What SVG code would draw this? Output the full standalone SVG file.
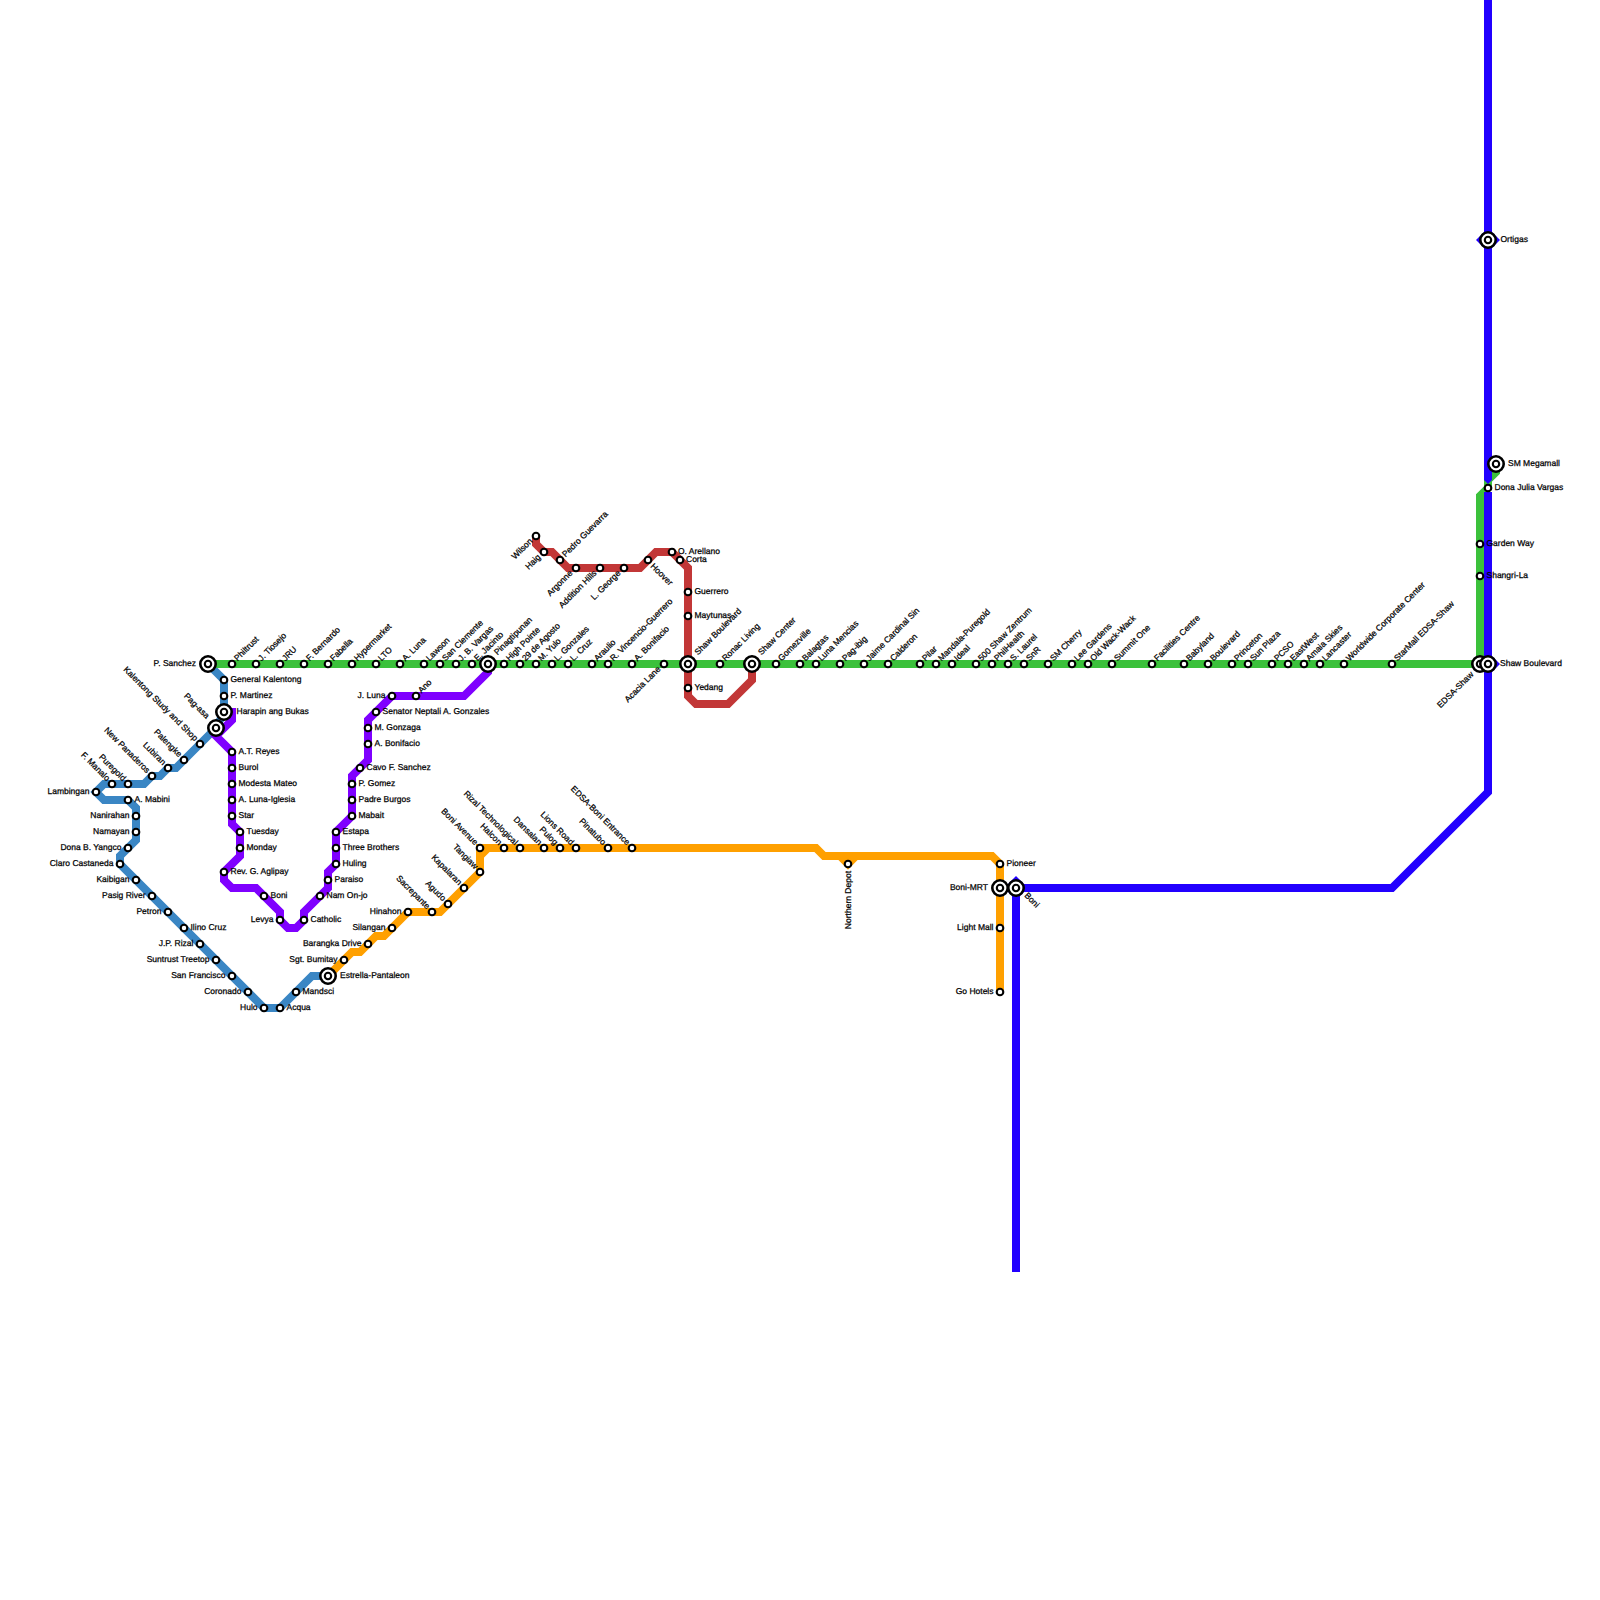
<svg xmlns="http://www.w3.org/2000/svg" width="1600" height="1600" viewBox="0 0 1600 1600">
<style>
.bg{fill:#fff}
.l{fill:none;stroke-width:8;stroke-linejoin:miter}
.steel{stroke:#3a86c4}.purple{stroke:#7f00ff}.orange{stroke:#ffa000}.red{stroke:#c23737}.blue{stroke:#2200ff}.green{stroke:#3bc13b}
.s{fill:#fff;stroke:#000;stroke-width:2.1}
.o{fill:#fff;stroke:#000;stroke-width:2.6}
text{font-family:"Liberation Sans",Arial,sans-serif;font-size:8.5px;fill:#000;stroke:#000;stroke-width:.25;text-rendering:geometricPrecision}
text:not([transform]){transform:translateY(-.7px)}
.e{text-anchor:end}
</style>
<defs>
<g id="ix"><circle class="o" r="7.7"/><circle class="s" r="3.2"/></g>
<polygon id="dia" points="0,-12 12,0 0,12 -12,0" fill="#2200ff"/>
</defs>
<rect class="bg" width="1600" height="1600"/>
<g id="connectors">
<path class="l steel" d="M208 664L224 680V712L216 728L184 760L176 768H168L160 776H152L144 784H104L96 792L104 800H128L136 808V840L120 856V864L264 1008H280L312 976H328"/>
<path class="l purple" d="M224 712H232V720L216 736L232 752V824L240 832V856L224 872V880L232 888H256L280 912V920L288 928H296L304 920V912L328 888V872L336 864V832L352 816V776L368 760V720L392 696H464L488 672V664"/>
<path class="l orange" d="M328 976L352 952H360L376 936H384L408 912H440L480 872V856L488 848H816L824 856H992L1000 864V992"/>
<path class="l orange" d="M480 856V848H490M840 856L848 864L856 856"/>
<path class="l red" d="M536 536V544L544 552H552L568 568H640L656 552H672L688 568V696L696 704H728L752 680V664"/>
<path class="l green" d="M208 664H1480V496L1488 488V480L1496 472V464"/>
<path class="l blue" d="M1488 0V480M1488 492V792L1392 888H1016V1272"/>
<polygon points="1484,480 1492,480 1488,484" fill="#2200ff"/>
<use href="#dia" x="1488" y="240"/><use href="#dia" x="1488" y="664"/><use href="#dia" x="1016" y="888"/>
</g>
<g id="steel-line-nodes">
<g id="p-sanchez"><use href="#ix" x="208" y="664"/><text class="e" x="196" y="667">P. Sanchez</text></g>
<g id="general-kalentong"><circle class="s" cx="224" cy="680" r="3.3"/><text x="230.5" y="683">General Kalentong</text></g>
<g id="p-martinez"><circle class="s" cx="224" cy="696" r="3.3"/><text x="230.5" y="699">P. Martinez</text></g>
<g id="harapin"><use href="#ix" x="224" y="712"/><text x="236.5" y="714.5">Harapin ang Bukas</text></g>
<g id="pag-asa"><use href="#ix" x="216" y="728"/><text class="e" transform="rotate(45 206 719)" x="206" y="719">Pag-asa</text></g>
<g id="kalentong-study"><circle class="s" cx="200" cy="744" r="3.3"/><text class="e" transform="rotate(45 194.5 741.5)" x="194.5" y="741.5">Kalentong Study and Shop</text></g>
<g id="palengke"><circle class="s" cx="184" cy="760" r="3.3"/><text class="e" transform="rotate(45 178.5 757.5)" x="178.5" y="757.5">Palengke</text></g>
<g id="lubiran"><circle class="s" cx="168" cy="768" r="3.3"/><text class="e" transform="rotate(45 162.5 765.5)" x="162.5" y="765.5">Lubiran</text></g>
<g id="new-panaderos"><circle class="s" cx="152" cy="776" r="3.3"/><text class="e" transform="rotate(45 146.5 773.5)" x="146.5" y="773.5">New Panaderos</text></g>
<g id="puregold"><circle class="s" cx="128" cy="784" r="3.3"/><text class="e" transform="rotate(45 122.5 781.5)" x="122.5" y="781.5">Puregold</text></g>
<g id="f-manalo"><circle class="s" cx="112" cy="784" r="3.3"/><text class="e" transform="rotate(45 106.5 781.5)" x="106.5" y="781.5">F. Manalo</text></g>
<g id="lambingan"><circle class="s" cx="96" cy="792" r="3.3"/><text class="e" x="89.5" y="795">Lambingan</text></g>
<g id="a-mabini"><circle class="s" cx="128" cy="800" r="3.3"/><text x="134.5" y="803">A. Mabini</text></g>
<g id="nanirahan"><circle class="s" cx="136" cy="816" r="3.3"/><text class="e" x="129.5" y="819">Nanirahan</text></g>
<g id="namayan"><circle class="s" cx="136" cy="832" r="3.3"/><text class="e" x="129.5" y="835">Namayan</text></g>
<g id="dona-b-yangco"><circle class="s" cx="128" cy="848" r="3.3"/><text class="e" x="121.5" y="851">Dona B. Yangco</text></g>
<g id="claro-castaneda"><circle class="s" cx="120" cy="864" r="3.3"/><text class="e" x="113.5" y="867">Claro Castaneda</text></g>
<g id="kaibigan"><circle class="s" cx="136" cy="880" r="3.3"/><text class="e" x="129.5" y="883">Kaibigan</text></g>
<g id="pasig-river"><circle class="s" cx="152" cy="896" r="3.3"/><text class="e" x="145.5" y="899">Pasig River</text></g>
<g id="petron"><circle class="s" cx="168" cy="912" r="3.3"/><text class="e" x="161.5" y="915">Petron</text></g>
<g id="ilino-cruz"><circle class="s" cx="184" cy="928" r="3.3"/><text x="190.5" y="931">Ilino Cruz</text></g>
<g id="jp-rizal"><circle class="s" cx="200" cy="944" r="3.3"/><text class="e" x="193.5" y="947">J.P. Rizal</text></g>
<g id="suntrust-treetop"><circle class="s" cx="216" cy="960" r="3.3"/><text class="e" x="209.5" y="963">Suntrust Treetop</text></g>
<g id="san-francisco"><circle class="s" cx="232" cy="976" r="3.3"/><text class="e" x="225.5" y="979">San Francisco</text></g>
<g id="coronado"><circle class="s" cx="248" cy="992" r="3.3"/><text class="e" x="241.5" y="995">Coronado</text></g>
<g id="hulo"><circle class="s" cx="264" cy="1008" r="3.3"/><text class="e" x="257.5" y="1011">Hulo</text></g>
<g id="acqua"><circle class="s" cx="280" cy="1008" r="3.3"/><text x="286.5" y="1011">Acqua</text></g>
<g id="mandsci"><circle class="s" cx="296" cy="992" r="3.3"/><text x="302.5" y="995">Mandsci</text></g>
<g id="estrella-pantaleon"><use href="#ix" x="328" y="976"/><text x="340" y="979">Estrella-Pantaleon</text></g>
</g>
<g id="purple-line-nodes">
<g id="at-reyes"><circle class="s" cx="232" cy="752" r="3.3"/><text x="238.5" y="755">A.T. Reyes</text></g>
<g id="burol"><circle class="s" cx="232" cy="768" r="3.3"/><text x="238.5" y="771">Burol</text></g>
<g id="modesta-mateo"><circle class="s" cx="232" cy="784" r="3.3"/><text x="238.5" y="787">Modesta Mateo</text></g>
<g id="a-luna-iglesia"><circle class="s" cx="232" cy="800" r="3.3"/><text x="238.5" y="803">A. Luna-Iglesia</text></g>
<g id="star"><circle class="s" cx="232" cy="816" r="3.3"/><text x="238.5" y="819">Star</text></g>
<g id="tuesday"><circle class="s" cx="240" cy="832" r="3.3"/><text x="246.5" y="835">Tuesday</text></g>
<g id="monday"><circle class="s" cx="240" cy="848" r="3.3"/><text x="246.5" y="851">Monday</text></g>
<g id="rev-aglipay"><circle class="s" cx="224" cy="872" r="3.3"/><text x="230.5" y="875">Rev. G. Aglipay</text></g>
<g id="boni-purple"><circle class="s" cx="264" cy="896" r="3.3"/><text x="270.5" y="899">Boni</text></g>
<g id="levya"><circle class="s" cx="280" cy="920" r="3.3"/><text class="e" x="273.5" y="923">Levya</text></g>
<g id="catholic"><circle class="s" cx="304" cy="920" r="3.3"/><text x="310.5" y="923">Catholic</text></g>
<g id="nam-on-jo"><circle class="s" cx="320" cy="896" r="3.3"/><text x="326.5" y="899">Nam On-jo</text></g>
<g id="paraiso"><circle class="s" cx="328" cy="880" r="3.3"/><text x="334.5" y="883">Paraiso</text></g>
<g id="huling"><circle class="s" cx="336" cy="864" r="3.3"/><text x="342.5" y="867">Huling</text></g>
<g id="three-brothers"><circle class="s" cx="336" cy="848" r="3.3"/><text x="342.5" y="851">Three Brothers</text></g>
<g id="estapa"><circle class="s" cx="336" cy="832" r="3.3"/><text x="342.5" y="835">Estapa</text></g>
<g id="mabait"><circle class="s" cx="352" cy="816" r="3.3"/><text x="358.5" y="819">Mabait</text></g>
<g id="padre-burgos"><circle class="s" cx="352" cy="800" r="3.3"/><text x="358.5" y="803">Padre Burgos</text></g>
<g id="p-gomez"><circle class="s" cx="352" cy="784" r="3.3"/><text x="358.5" y="787">P. Gomez</text></g>
<g id="cavo"><circle class="s" cx="360" cy="768" r="3.3"/><text x="366.5" y="771">Cavo F. Sanchez</text></g>
<g id="a-bonifacio-purple"><circle class="s" cx="368" cy="744" r="3.3"/><text x="374.5" y="747">A. Bonifacio</text></g>
<g id="m-gonzaga"><circle class="s" cx="368" cy="728" r="3.3"/><text x="374.5" y="731">M. Gonzaga</text></g>
<g id="senator"><circle class="s" cx="376" cy="712" r="3.3"/><text x="382.5" y="715">Senator Neptali A. Gonzales</text></g>
<g id="j-luna"><circle class="s" cx="392" cy="696" r="3.3"/><text class="e" x="385.5" y="699">J. Luna</text></g>
<g id="ano"><circle class="s" cx="416" cy="696" r="3.3"/><text transform="rotate(-45 421.5 693.5)" x="421.5" y="693.5">Ano</text></g>
</g>
<g id="orange-line-nodes">
<g id="sgt-bumitay"><circle class="s" cx="344" cy="960" r="3.3"/><text class="e" x="337.5" y="963">Sgt. Bumitay</text></g>
<g id="barangka-drive"><circle class="s" cx="368" cy="944" r="3.3"/><text class="e" x="361.5" y="947">Barangka Drive</text></g>
<g id="silangan"><circle class="s" cx="392" cy="928" r="3.3"/><text class="e" x="385.5" y="931">Silangan</text></g>
<g id="hinahon"><circle class="s" cx="408" cy="912" r="3.3"/><text class="e" x="401.5" y="915">Hinahon</text></g>
<g id="sacrepante"><circle class="s" cx="432" cy="912" r="3.3"/><text class="e" transform="rotate(45 426.5 909.5)" x="426.5" y="909.5">Sacrepante</text></g>
<g id="agudo"><circle class="s" cx="448" cy="904" r="3.3"/><text class="e" transform="rotate(45 442.5 901.5)" x="442.5" y="901.5">Agudo</text></g>
<g id="kapalaran"><circle class="s" cx="464" cy="888" r="3.3"/><text class="e" transform="rotate(45 458.5 885.5)" x="458.5" y="885.5">Kapalaran</text></g>
<g id="tangiaw"><circle class="s" cx="480" cy="872" r="3.3"/><text class="e" transform="rotate(45 474.5 869.5)" x="474.5" y="869.5">Tangiaw</text></g>
<g id="boni-avenue"><circle class="s" cx="480" cy="848" r="3.3"/><text class="e" transform="rotate(45 474.5 845.5)" x="474.5" y="845.5">Boni Avenue</text></g>
<g id="halcon"><circle class="s" cx="504" cy="848" r="3.3"/><text class="e" transform="rotate(45 498.5 845.5)" x="498.5" y="845.5">Halcon</text></g>
<g id="rizal-tech"><circle class="s" cx="520" cy="848" r="3.3"/><text class="e" transform="rotate(45 514.5 845.5)" x="514.5" y="845.5">Rizal Technological</text></g>
<g id="dansalan"><circle class="s" cx="544" cy="848" r="3.3"/><text class="e" transform="rotate(45 538.5 845.5)" x="538.5" y="845.5">Dansalan</text></g>
<g id="pulog"><circle class="s" cx="560" cy="848" r="3.3"/><text class="e" transform="rotate(45 554.5 845.5)" x="554.5" y="845.5">Pulog</text></g>
<g id="lions-road"><circle class="s" cx="576" cy="848" r="3.3"/><text class="e" transform="rotate(45 570.5 845.5)" x="570.5" y="845.5">Lions Road</text></g>
<g id="pinatubo"><circle class="s" cx="608" cy="848" r="3.3"/><text class="e" transform="rotate(45 602.5 845.5)" x="602.5" y="845.5">Pinatubo</text></g>
<g id="edsa-boni"><circle class="s" cx="632" cy="848" r="3.3"/><text class="e" transform="rotate(45 626.5 845.5)" x="626.5" y="845.5">EDSA-Boni Entrance</text></g>
<g id="northern-depot"><circle class="s" cx="848" cy="864" r="3.3"/><text class="e" transform="rotate(-90 851 871)" x="851" y="871">Northern Depot</text></g>
<g id="pioneer"><circle class="s" cx="1000" cy="864" r="3.3"/><text x="1006.5" y="867">Pioneer</text></g>
<g id="boni-mrt"><use href="#ix" x="1000" y="888"/><text class="e" x="988" y="891">Boni-MRT</text></g>
<g id="light-mall"><circle class="s" cx="1000" cy="928" r="3.3"/><text class="e" x="993.5" y="931">Light Mall</text></g>
<g id="go-hotels"><circle class="s" cx="1000" cy="992" r="3.3"/><text class="e" x="993.5" y="995">Go Hotels</text></g>
<g id="boni-blue"><use href="#ix" x="1016" y="888"/><text transform="rotate(45 1024 896)" x="1024" y="896">Boni</text></g>
</g>
<g id="red-line-nodes">
<g id="wilson"><circle class="s" cx="536" cy="536" r="3.3"/><text class="e" transform="rotate(-45 533 541.7)" x="533" y="541.7">Wilson</text></g>
<g id="haig"><circle class="s" cx="544" cy="552" r="3.3"/><text class="e" transform="rotate(-45 541 557.7)" x="541" y="557.7">Haig</text></g>
<g id="pedro-guevarra"><circle class="s" cx="560" cy="560" r="3.3"/><text transform="rotate(-45 565.5 557.5)" x="565.5" y="557.5">Pedro Guevarra</text></g>
<g id="argonne"><circle class="s" cx="576" cy="568" r="3.3"/><text class="e" transform="rotate(-45 573 573.7)" x="573" y="573.7">Argonne</text></g>
<g id="addition-hills"><circle class="s" cx="600" cy="568" r="3.3"/><text class="e" transform="rotate(-45 597 573.7)" x="597" y="573.7">Addition Hills</text></g>
<g id="l-george"><circle class="s" cx="624" cy="568" r="3.3"/><text class="e" transform="rotate(-45 621 573.7)" x="621" y="573.7">L. George</text></g>
<g id="hoover"><circle class="s" cx="648" cy="560" r="3.3"/><text transform="rotate(45 650 566.7)" x="650" y="566.7">Hoover</text></g>
<g id="o-arellano"><circle class="s" cx="672" cy="552" r="3.3"/><text x="678" y="555">O. Arellano</text></g>
<g id="corta"><circle class="s" cx="680" cy="560" r="3.3"/><text x="686" y="563">Corta</text></g>
<g id="guerrero"><circle class="s" cx="688" cy="592" r="3.3"/><text x="694.5" y="595">Guerrero</text></g>
<g id="maytunas"><circle class="s" cx="688" cy="616" r="3.3"/><text x="694.5" y="619">Maytunas</text></g>
<g id="yedang"><circle class="s" cx="688" cy="688" r="3.3"/><text x="694.5" y="691">Yedang</text></g>
</g>
<g id="green-line-nodes">
<g id="philtrust"><circle class="s" cx="232" cy="664" r="3.3"/><text transform="rotate(-45 237.5 661.5)" x="237.5" y="661.5">Philtrust</text></g>
<g id="j-tiosejo"><circle class="s" cx="256" cy="664" r="3.3"/><text transform="rotate(-45 261.5 661.5)" x="261.5" y="661.5">J. Tiosejo</text></g>
<g id="jru"><circle class="s" cx="280" cy="664" r="3.3"/><text transform="rotate(-45 285.5 661.5)" x="285.5" y="661.5">JRU</text></g>
<g id="f-bernardo"><circle class="s" cx="304" cy="664" r="3.3"/><text transform="rotate(-45 309.5 661.5)" x="309.5" y="661.5">F. Bernardo</text></g>
<g id="fabella"><circle class="s" cx="328" cy="664" r="3.3"/><text transform="rotate(-45 333.5 661.5)" x="333.5" y="661.5">Fabella</text></g>
<g id="hypermarket"><circle class="s" cx="352" cy="664" r="3.3"/><text transform="rotate(-45 357.5 661.5)" x="357.5" y="661.5">Hypermarket</text></g>
<g id="lto"><circle class="s" cx="376" cy="664" r="3.3"/><text transform="rotate(-45 381.5 661.5)" x="381.5" y="661.5">LTO</text></g>
<g id="a-luna"><circle class="s" cx="400" cy="664" r="3.3"/><text transform="rotate(-45 405.5 661.5)" x="405.5" y="661.5">A. Luna</text></g>
<g id="lawson"><circle class="s" cx="424" cy="664" r="3.3"/><text transform="rotate(-45 429.5 661.5)" x="429.5" y="661.5">Lawson</text></g>
<g id="san-clemente"><circle class="s" cx="440" cy="664" r="3.3"/><text transform="rotate(-45 445.5 661.5)" x="445.5" y="661.5">San Clemente</text></g>
<g id="jb-vargas"><circle class="s" cx="456" cy="664" r="3.3"/><text transform="rotate(-45 461.5 661.5)" x="461.5" y="661.5">J. B. Vargas</text></g>
<g id="e-jacinto"><circle class="s" cx="472" cy="664" r="3.3"/><text transform="rotate(-45 477.5 661.5)" x="477.5" y="661.5">E. Jacinto</text></g>
<g id="pinagtipunan"><use href="#ix" x="488" y="664"/><text transform="rotate(-45 497.5 655.5)" x="497.5" y="655.5">Pinagtipunan</text></g>
<g id="high-pointe"><circle class="s" cx="504" cy="664" r="3.3"/><text transform="rotate(-45 509.5 661.5)" x="509.5" y="661.5">High Pointe</text></g>
<g id="29-de-agosto"><circle class="s" cx="520" cy="664" r="3.3"/><text transform="rotate(-45 525.5 661.5)" x="525.5" y="661.5">29 de Agosto</text></g>
<g id="m-yulo"><circle class="s" cx="536" cy="664" r="3.3"/><text transform="rotate(-45 541.5 661.5)" x="541.5" y="661.5">M. Yulo</text></g>
<g id="l-gonzales"><circle class="s" cx="552" cy="664" r="3.3"/><text transform="rotate(-45 557.5 661.5)" x="557.5" y="661.5">L. Gonzales</text></g>
<g id="l-cruz"><circle class="s" cx="568" cy="664" r="3.3"/><text transform="rotate(-45 573.5 661.5)" x="573.5" y="661.5">L. Cruz</text></g>
<g id="araulio"><circle class="s" cx="592" cy="664" r="3.3"/><text transform="rotate(-45 597.5 661.5)" x="597.5" y="661.5">Araulio</text></g>
<g id="r-vincencio"><circle class="s" cx="608" cy="664" r="3.3"/><text transform="rotate(-45 613.5 661.5)" x="613.5" y="661.5">R. Vincencio-Guerrero</text></g>
<g id="a-bonifacio"><circle class="s" cx="632" cy="664" r="3.3"/><text transform="rotate(-45 637.5 661.5)" x="637.5" y="661.5">A. Bonifacio</text></g>
<g id="acacia-lane"><circle class="s" cx="664" cy="664" r="3.3"/><text class="e" transform="rotate(-45 661 669.7)" x="661" y="669.7">Acacia Lane</text></g>
<g id="shaw-boulevard"><use href="#ix" x="688" y="664"/><text transform="rotate(-45 698 655.5)" x="698" y="655.5">Shaw Boulevard</text></g>
<g id="ronac-living"><circle class="s" cx="720" cy="664" r="3.3"/><text transform="rotate(-45 725.5 661.5)" x="725.5" y="661.5">Ronac Living</text></g>
<g id="shaw-center"><use href="#ix" x="752" y="664"/><text transform="rotate(-45 761.5 655.5)" x="761.5" y="655.5">Shaw Center</text></g>
<g id="gomezville"><circle class="s" cx="776" cy="664" r="3.3"/><text transform="rotate(-45 781.5 661.5)" x="781.5" y="661.5">Gomezville</text></g>
<g id="balagtas"><circle class="s" cx="800" cy="664" r="3.3"/><text transform="rotate(-45 805.5 661.5)" x="805.5" y="661.5">Balagtas</text></g>
<g id="luna-mencias"><circle class="s" cx="816" cy="664" r="3.3"/><text transform="rotate(-45 821.5 661.5)" x="821.5" y="661.5">Luna Mencias</text></g>
<g id="pag-ibig"><circle class="s" cx="840" cy="664" r="3.3"/><text transform="rotate(-45 845.5 661.5)" x="845.5" y="661.5">Pag-ibig</text></g>
<g id="jaime"><circle class="s" cx="864" cy="664" r="3.3"/><text transform="rotate(-45 869.5 661.5)" x="869.5" y="661.5">Jaime Cardinal Sin</text></g>
<g id="calderon"><circle class="s" cx="888" cy="664" r="3.3"/><text transform="rotate(-45 893.5 661.5)" x="893.5" y="661.5">Calderon</text></g>
<g id="pilar"><circle class="s" cx="920" cy="664" r="3.3"/><text transform="rotate(-45 925.5 661.5)" x="925.5" y="661.5">Pilar</text></g>
<g id="mandala"><circle class="s" cx="936" cy="664" r="3.3"/><text transform="rotate(-45 941.5 661.5)" x="941.5" y="661.5">Mandala-Puregold</text></g>
<g id="ideal"><circle class="s" cx="952" cy="664" r="3.3"/><text transform="rotate(-45 957.5 661.5)" x="957.5" y="661.5">Ideal</text></g>
<g id="500-shaw"><circle class="s" cx="976" cy="664" r="3.3"/><text transform="rotate(-45 981.5 661.5)" x="981.5" y="661.5">500 Shaw Zentrum</text></g>
<g id="philhealth"><circle class="s" cx="992" cy="664" r="3.3"/><text transform="rotate(-45 997.5 661.5)" x="997.5" y="661.5">PhilHealth</text></g>
<g id="s-laurel"><circle class="s" cx="1008" cy="664" r="3.3"/><text transform="rotate(-45 1013.5 661.5)" x="1013.5" y="661.5">S. Laurel</text></g>
<g id="snr"><circle class="s" cx="1024" cy="664" r="3.3"/><text transform="rotate(-45 1029.5 661.5)" x="1029.5" y="661.5">SnR</text></g>
<g id="sm-cherry"><circle class="s" cx="1048" cy="664" r="3.3"/><text transform="rotate(-45 1053.5 661.5)" x="1053.5" y="661.5">SM Cherry</text></g>
<g id="lee-gardens"><circle class="s" cx="1072" cy="664" r="3.3"/><text transform="rotate(-45 1077.5 661.5)" x="1077.5" y="661.5">Lee Gardens</text></g>
<g id="old-wack-wack"><circle class="s" cx="1088" cy="664" r="3.3"/><text transform="rotate(-45 1093.5 661.5)" x="1093.5" y="661.5">Old Wack-Wack</text></g>
<g id="summit-one"><circle class="s" cx="1112" cy="664" r="3.3"/><text transform="rotate(-45 1117.5 661.5)" x="1117.5" y="661.5">Summit One</text></g>
<g id="facilities-centre"><circle class="s" cx="1152" cy="664" r="3.3"/><text transform="rotate(-45 1157.5 661.5)" x="1157.5" y="661.5">Facilities Centre</text></g>
<g id="babyland"><circle class="s" cx="1184" cy="664" r="3.3"/><text transform="rotate(-45 1189.5 661.5)" x="1189.5" y="661.5">Babyland</text></g>
<g id="boulevard"><circle class="s" cx="1208" cy="664" r="3.3"/><text transform="rotate(-45 1213.5 661.5)" x="1213.5" y="661.5">Boulevard</text></g>
<g id="princeton"><circle class="s" cx="1232" cy="664" r="3.3"/><text transform="rotate(-45 1237.5 661.5)" x="1237.5" y="661.5">Princeton</text></g>
<g id="sun-plaza"><circle class="s" cx="1248" cy="664" r="3.3"/><text transform="rotate(-45 1253.5 661.5)" x="1253.5" y="661.5">Sun Plaza</text></g>
<g id="pcso"><circle class="s" cx="1272" cy="664" r="3.3"/><text transform="rotate(-45 1277.5 661.5)" x="1277.5" y="661.5">PCSO</text></g>
<g id="eastwest"><circle class="s" cx="1288" cy="664" r="3.3"/><text transform="rotate(-45 1293.5 661.5)" x="1293.5" y="661.5">EastWest</text></g>
<g id="amaia-skies"><circle class="s" cx="1304" cy="664" r="3.3"/><text transform="rotate(-45 1309.5 661.5)" x="1309.5" y="661.5">Amaia Skies</text></g>
<g id="lancaster"><circle class="s" cx="1320" cy="664" r="3.3"/><text transform="rotate(-45 1325.5 661.5)" x="1325.5" y="661.5">Lancaster</text></g>
<g id="worldwide"><circle class="s" cx="1344" cy="664" r="3.3"/><text transform="rotate(-45 1349.5 661.5)" x="1349.5" y="661.5">Worldwide Corporate Center</text></g>
<g id="starmall"><circle class="s" cx="1392" cy="664" r="3.3"/><text transform="rotate(-45 1397.5 661.5)" x="1397.5" y="661.5">StarMall EDSA-Shaw</text></g>
<g id="edsa-shaw"><use href="#ix" x="1480" y="664"/><text class="e" transform="rotate(-45 1474 675)" x="1474" y="675">EDSA-Shaw</text></g>
<g id="shangri-la"><circle class="s" cx="1480" cy="576" r="3.3"/><text x="1486.5" y="579">Shangri-La</text></g>
<g id="garden-way"><circle class="s" cx="1480" cy="544" r="3.3"/><text x="1486.5" y="547">Garden Way</text></g>
<g id="dona-julia-vargas"><circle class="s" cx="1488" cy="488" r="3.3"/><text x="1494.5" y="491">Dona Julia Vargas</text></g>
<g id="sm-megamall"><use href="#ix" x="1496" y="464"/><text x="1508" y="467">SM Megamall</text></g>
</g>
<g id="blue-line-nodes">
<g id="ortigas"><use href="#ix" x="1488" y="240"/><text x="1500.5" y="243">Ortigas</text></g>
<g id="shaw-boulevard-blue"><use href="#ix" x="1488" y="664"/><text x="1500" y="667">Shaw Boulevard</text></g>
</g>
</svg>
